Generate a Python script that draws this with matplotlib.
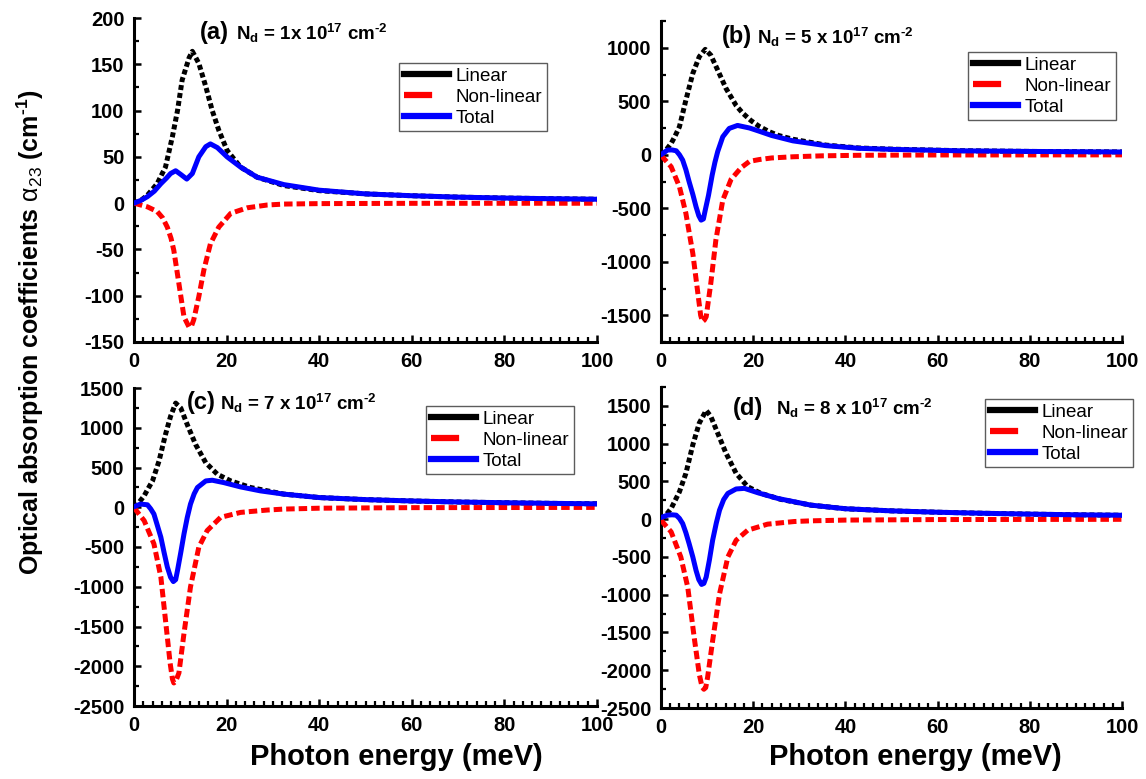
import matplotlib
matplotlib.use("Agg")
import matplotlib.pyplot as plt
from matplotlib.lines import Line2D
from matplotlib.ticker import MultipleLocator

plt.rcParams['font.family'] = ['Liberation Sans', 'DejaVu Sans']
plt.rcParams['mathtext.fontset'] = 'custom'
plt.rcParams['mathtext.rm'] = 'Liberation Sans:bold'
plt.rcParams['mathtext.sf'] = 'Liberation Sans'
plt.rcParams['mathtext.it'] = 'Liberation Sans:italic'
plt.rcParams['mathtext.bf'] = 'Liberation Sans:bold'
plt.rcParams['axes.unicode_minus'] = False

# ---------------- data ----------------
# Panel (a)  Nd = 1e17
a_lin_x = [0, 1.5, 2.9, 5.0, 6.8, 8.3, 9.4, 10.4, 11.9, 12.6, 14.0, 15.5, 16.9, 18.3, 20.1, 23.0, 26.6, 32.4, 40, 50, 60, 70, 80, 90, 100]
a_lin_y = [0, 3, 8.6, 21, 39, 72, 100, 133, 157, 164, 151, 126, 100, 79, 57, 39, 28, 19, 13.5, 10, 8, 6.5, 5.5, 4.8, 4.2]
a_tot_x = [0, 1.5, 2.9, 4.4, 5.8, 7.0, 7.9, 9.0, 10.1, 11.4, 12.6, 14.0, 15.5, 16.5, 18.0, 20.1, 23.0, 26.6, 32.4, 40, 50, 60, 70, 80, 90, 100]
a_tot_y = [0, 3, 7, 13, 21, 27, 32, 35, 31, 26, 32, 50, 61, 64, 60, 50, 39, 28, 20, 14, 10, 8, 6.5, 5.5, 4.8, 4.2]
a_non_x = [0, 2.9, 5.0, 6.2, 7.2, 8.0, 8.6, 9.7, 10.8, 11.9, 12.4, 12.9, 14.0, 15.1, 16.5, 18.3, 20.9, 24.5, 28.8, 32.4, 40, 60, 100]
a_non_y = [0, -4, -9, -16, -26, -38, -51, -87, -123, -134, -133, -126, -101, -72, -44, -26, -11, -5, -2, -1, -0.5, -0.2, -0.1]

# Panel (b)  Nd = 5e17
b_lin_x = [0, 1.2, 2.2, 3.0, 4.0, 5.4, 6.9, 8.3, 9.6, 10.8, 12.3, 14.1, 16.3, 17.7, 19.5, 21.3, 23.5, 25.5, 28.6, 35.8, 43, 50.3, 64.7, 80, 100]
b_lin_y = [0, 50, 106, 170, 262, 511, 760, 916, 985, 931, 791, 620, 460, 390, 320, 265, 215, 180, 145, 90, 63, 52, 38, 31, 26]
b_tot_x = [0, 1.4, 2.4, 3.3, 4.0, 4.7, 5.4, 6.1, 6.9, 7.6, 8.2, 8.7, 9.2, 9.6, 10.3, 11.1, 11.7, 12.3, 13.4, 14.8, 16.6, 19.2, 21.3, 24, 28.6, 35.8, 43, 50.3, 64.7, 80, 100]
b_tot_y = [0, 44, 45, 37, 0, -50, -140, -252, -370, -486, -570, -611, -600, -517, -380, -190, -70, 30, 168, 246, 274, 250, 220, 180, 130, 85, 60, 50, 37, 31, 26]
b_non_x = [0, 2.2, 4.0, 5.4, 6.9, 8.0, 8.6, 9.0, 9.4, 9.8, 10.8, 11.9, 13.4, 15.2, 16.3, 17.4, 19.2, 21.3, 24, 28.6, 35, 43, 60, 100]
b_non_y = [-5, -112, -299, -548, -922, -1296, -1500, -1560, -1545, -1514, -1202, -798, -424, -230, -175, -120, -62, -45, -30, -19, -10, -5, -2, -1]

# Panel (c)  Nd = 7e17
c_lin_x = [0, 1.2, 2.2, 3.0, 4.0, 5.4, 6.8, 7.9, 9.0, 10.1, 11.5, 13.3, 15.5, 18.0, 20.9, 25.2, 32.4, 40, 50, 60, 70, 80, 90, 100]
c_lin_y = [0, 70, 144, 230, 331, 581, 915, 1144, 1310, 1248, 1040, 790, 560, 415, 331, 248, 165, 122, 96, 79, 66, 57, 49, 43]
c_tot_x = [0, 1.4, 2.9, 3.6, 4.3, 5.0, 5.8, 6.5, 7.2, 7.9, 8.5, 9.0, 9.4, 10.1, 10.8, 11.5, 12.2, 13.0, 13.7, 15.5, 16.9, 19.4, 23.0, 27.3, 32.4, 40, 50, 60, 70, 80, 90, 100]
c_tot_y = [6, 40, 31, -20, -85, -220, -377, -570, -752, -880, -935, -910, -794, -570, -335, -130, 40, 170, 248, 331, 340, 310, 256, 206, 165, 122, 96, 79, 66, 57, 49, 43]
c_non_x = [0, 2.2, 4.3, 5.8, 6.8, 7.8, 8.3, 8.6, 9.0, 9.7, 10.8, 12.2, 14.0, 15.8, 18.7, 23.0, 28.8, 32.4, 40, 60, 100]
c_non_y = [-5, -169, -460, -877, -1419, -1960, -2160, -2210, -2190, -2085, -1585, -1002, -502, -294, -127, -65, -35, -23, -12, -5, -2]

# Panel (d)  Nd = 8e17
d_lin_x = [0, 1.2, 2.2, 3.0, 4.0, 5.4, 6.9, 8.3, 9.8, 10.8, 12.3, 14.1, 16.3, 18.8, 21.7, 26.0, 32.5, 40, 50, 60, 70, 80, 90, 100]
d_lin_y = [0, 65, 142, 240, 363, 607, 984, 1272, 1440, 1361, 1139, 873, 607, 430, 341, 262, 186, 138, 110, 92, 78, 67, 58, 52]
d_tot_x = [0, 1.4, 2.4, 3.3, 4.0, 4.7, 5.4, 6.1, 6.9, 7.6, 8.2, 8.8, 9.3, 9.8, 10.5, 11.2, 12.0, 12.7, 13.6, 14.5, 16.3, 18.1, 21.0, 25.3, 32.5, 40, 50, 60, 70, 80, 90, 100]
d_tot_y = [22, 53, 58, 53, 10, -58, -180, -324, -500, -678, -800, -864, -850, -767, -540, -279, -50, 120, 260, 341, 400, 408, 350, 275, 186, 138, 110, 92, 78, 67, 58, 52]
d_non_x = [0, 2.2, 4.3, 5.8, 7.2, 8.3, 8.9, 9.3, 9.7, 10.1, 11.2, 12.7, 14.5, 16.3, 18.8, 23.1, 28.9, 32.5, 40, 60, 100]
d_non_y = [-13, -168, -501, -900, -1565, -2052, -2220, -2252, -2230, -2097, -1609, -988, -501, -279, -146, -66, -31, -22, -12, -5, -2]

panel_letters = ['(a)', '(b)', '(c)', '(d)']
nd_labels = [r'$\mathbf{N_d}$ = 1x 10$^{\mathbf{17}}$ cm$^{\text{-2}}$',
             r'$\mathbf{N_d}$ = 5 x 10$^{\mathbf{17}}$ cm$^{\text{-2}}$',
             r'$\mathbf{N_d}$ = 7 x 10$^{\mathbf{17}}$ cm$^{\text{-2}}$',
             r'$\mathbf{N_d}$ = 8 x 10$^{\mathbf{17}}$ cm$^{\text{-2}}$']
series_names = ['Linear', 'Non-linear', 'Total']
ylims = [(-150, 200), (-1750, 1250), (-2500, 1500), (-2500, 1750)]
ymajor = [50, 500, 500, 500]
ytick_lists = [list(range(-150, 201, 50)), list(range(-1500, 1001, 500)),
               list(range(-2500, 1501, 500)), list(range(-2500, 1501, 500))]

panels = [(a_lin_x, a_lin_y, a_non_x, a_non_y, a_tot_x, a_tot_y),
          (b_lin_x, b_lin_y, b_non_x, b_non_y, b_tot_x, b_tot_y),
          (c_lin_x, c_lin_y, c_non_x, c_non_y, c_tot_x, c_tot_y),
          (d_lin_x, d_lin_y, d_non_x, d_non_y, d_tot_x, d_tot_y)]

# ---------------- layout ----------------
W, H = 1146, 779
fig = plt.figure(figsize=(W / 100, H / 100), dpi=100)

def px_rect(l, t, r, b):
    return [l / W, 1 - b / H, (r - l) / W, (b - t) / H]

rects = [px_rect(134, 18, 597, 342), px_rect(661, 21, 1122, 342),
         px_rect(134, 388, 597, 706), px_rect(661, 387, 1122, 708)]
legend_pos = [(399, 63), (968, 52), (426, 406), (985, 399)]
letter_pos = [(200, 33), (722, 37), (187, 403), (733, 408)]
nd_pos = [(236, 33), (757, 37), (220, 403), (776, 408)]

lw = 3.6
for i, (lx, ly, nx, ny, tx, ty) in enumerate(panels):
    ax = fig.add_axes(rects[i])
    ax.plot(lx, ly, color='black', lw=lw, dashes=(1.0, 0.6), dash_capstyle='butt', zorder=2)
    ax.plot(nx, ny, color='red', lw=lw, dashes=(1.7, 0.8), dash_capstyle='butt', zorder=3)
    ax.plot(tx, ty, color='blue', lw=lw, solid_capstyle='round', zorder=4)
    ax.set_xlim(0, 100)
    ax.set_ylim(*ylims[i])
    ax.xaxis.set_major_locator(MultipleLocator(20))
    ax.xaxis.set_minor_locator(MultipleLocator(2))
    ax.set_yticks(ytick_lists[i])
    ax.yaxis.set_minor_locator(MultipleLocator(ymajor[i] / 2))
    for s in ['top', 'right']:
        ax.spines[s].set_visible(False)
    for s in ['left', 'bottom']:
        ax.spines[s].set_linewidth(2.2)
    ax.tick_params(which='major', direction='in', length=5, width=1.8, labelsize=14.5, pad=7)
    ax.tick_params(which='minor', direction='in', length=3.5, width=1.6)
    for lab in ax.get_xticklabels() + ax.get_yticklabels():
        lab.set_fontweight('bold')
    handles = [Line2D([], [], color='black', lw=4.5),
               Line2D([], [], color='red', lw=4.5, dashes=(4.5, 20), dash_capstyle='butt'),
               Line2D([], [], color='blue', lw=4.5)]
    lxp, lyp = legend_pos[i]
    leg = fig.legend(handles, series_names, loc='upper left',
                     bbox_to_anchor=(lxp / W, 1 - lyp / H), bbox_transform=fig.transFigure,
                     fontsize=13.5, frameon=True, fancybox=False, borderpad=0.25,
                     labelspacing=0.2, handlelength=2.4, handletextpad=0.35,
                     borderaxespad=0)
    leg.get_frame().set_edgecolor('#333333')
    leg.get_frame().set_linewidth(1.0)
    px, py = letter_pos[i]
    fig.text(px / W, 1 - py / H, panel_letters[i], fontsize=17, fontweight='bold',
             ha='left', va='center')
    qx, qy = nd_pos[i]
    fig.text(qx / W, 1 - qy / H, nd_labels[i], fontsize=13.5, fontweight='bold',
             ha='left', va='center')

fig.text(396 / W, 1 - 757 / H, 'Photon energy (meV)', fontsize=21, fontweight='bold',
         ha='center', va='center')
fig.text(915 / W, 1 - 757 / H, 'Photon energy (meV)', fontsize=21, fontweight='bold',
         ha='center', va='center')
fig.text(30 / W, 1 - 332 / H,
         r'Optical absorption coefficients $\mathsf{\alpha_{23}}$ (cm$^{\text{-1}}$)',
         fontsize=18, fontweight='bold', rotation=90, ha='center', va='center')

fig.savefig('out.png', dpi=100)
